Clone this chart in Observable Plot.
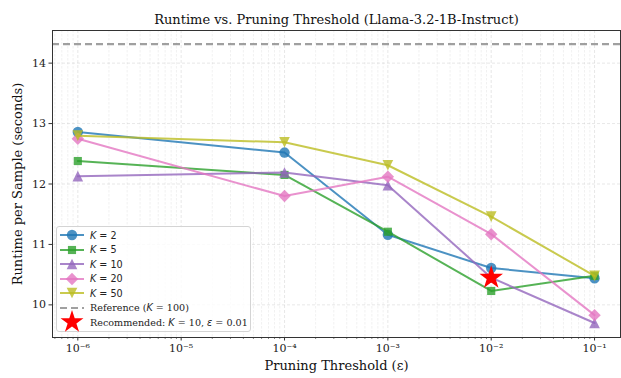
<!DOCTYPE html>
<html>
<head>
<meta charset="utf-8">
<script src="https://cdn.jsdelivr.net/npm/d3@7"></script>
<script src="https://cdn.jsdelivr.net/npm/@observablehq/plot@0.6"></script>
<style>
  html, body { margin: 0; padding: 0; background: #fff; }
  #wrap { position: relative; width: 621px; height: 378px; overflow: hidden; }
  #legend {
    position: absolute; left: 56px; top: 226px; width: 195px; height: 106px;
    border: 1px solid #d4d4d4; border-radius: 3px; background: rgba(255,255,255,0.8);
    box-sizing: border-box;
  }
  .row { position: absolute; left: 0; height: 14px; display: flex; align-items: center; }
  .row svg { display: block; }
  .lab-sans { font-family: "DejaVu Sans", sans-serif; font-size: 9.6px; color: #222; margin-left: 6px; white-space: nowrap; }
  .lab-serif { font-family: "DejaVu Serif", serif; font-size: 9.6px; color: #222; margin-left: 6px; white-space: nowrap; }
  .lab-serif i, .lab-sans i { font-family: "DejaVu Sans", sans-serif; font-style: italic; }
</style>
</head>
<body>
<div id="wrap"><div id="legend"></div></div>
<script>
// ---- data ----
const thresholds = [1e-6, 1e-4, 1e-3, 1e-2, 1e-1];
const kValues = [2, 5, 10, 20, 50];
const runtimeK2  = [12.86, 12.52, 11.16, 10.61, 10.44];
const runtimeK5  = [12.38, 12.15, 11.21, 10.23, 10.48];
const runtimeK10 = [12.13, 12.19, 11.98, 10.45, 9.70];
const runtimeK20 = [12.75, 11.80, 12.12, 11.17, 9.83];
const runtimeK50 = [12.80, 12.69, 12.31, 11.46, 10.48];
const referenceRuntime = [14.315];
const recommendedEps = [0.01];
const recommendedRuntime = [10.45];
const yTicks = [10, 11, 12, 13, 14];
const xTicks = [1e-6, 1e-5, 1e-4, 1e-3, 1e-2, 1e-1];
const xTickLabels = ["10\u207B\u2076", "10\u207B\u2075", "10\u207B\u2074", "10\u207B\u00B3", "10\u207B\u00B2", "10\u207B\u00B9"];
const seriesColors = ["#1f77b4", "#2ca02c", "#9467bd", "#e377c2", "#bcbd22"];

// custom triangles centered like matplotlib markers
const triUp = { draw(ctx, size) { const s = Math.sqrt(size / Math.PI) * 0.95; ctx.moveTo(0, -s); ctx.lineTo(s, s); ctx.lineTo(-s, s); ctx.closePath(); } };
const triDown = { draw(ctx, size) { const s = Math.sqrt(size / Math.PI) * 0.95; ctx.moveTo(0, s); ctx.lineTo(s, -s); ctx.lineTo(-s, -s); ctx.closePath(); } };
const seriesSymbols = ["circle", "square", triUp, "diamond2", triDown];
const symbolRadius = [5.2, 4.6, 5.6, 5.6, 5.6];

const allRuntimes = [runtimeK2, runtimeK5, runtimeK10, runtimeK20, runtimeK50];
const rows = [];
kValues.forEach((k, i) => thresholds.forEach((t, j) => rows.push({ k, idx: i, eps: t, runtime: allRuntimes[i][j] })));

// minor log ticks
const minor = [];
for (let e = -7; e <= -1; e++) for (let m = 2; m <= 9; m++) minor.push(m * Math.pow(10, e));
const xDomain = [Math.pow(10, -6.245), Math.pow(10, -0.749)];
const minorIn = minor.filter(v => v >= xDomain[0] && v <= xDomain[1]);

const marks = [
  Plot.gridX(minorIn, { stroke: "#bbb", strokeOpacity: 0.35, strokeDasharray: "2.5,1.5", strokeWidth: 0.6 }),
  Plot.gridX(xTicks, { stroke: "#aaa", strokeOpacity: 0.4, strokeDasharray: "3,2", strokeWidth: 0.7 }),
  Plot.gridY(yTicks, { stroke: "#aaa", strokeOpacity: 0.4, strokeDasharray: "3,2", strokeWidth: 0.7 }),
  Plot.ruleY(referenceRuntime, { stroke: "#808080", strokeOpacity: 0.75, strokeWidth: 2.2, strokeDasharray: "7,4" }),
];
kValues.forEach((k, i) => {
  const d = rows.filter(r => r.idx === i);
  marks.push(Plot.line(d, { x: "eps", y: "runtime", stroke: seriesColors[i], strokeWidth: 2, strokeOpacity: 0.8 }));
  marks.push(Plot.dot(d, { x: "eps", y: "runtime", fill: seriesColors[i], fillOpacity: 0.8, stroke: "none", symbol: () => seriesSymbols[i], r: symbolRadius[i] }));
});
marks.push(Plot.dot(recommendedEps.map((e, i) => ({ eps: e, runtime: recommendedRuntime[i] })), { x: "eps", y: "runtime", symbol: "star", fill: "red", r: 7.4, stroke: "none" }));
marks.push(
  Plot.axisX(minorIn, { tickSize: 2, tickFormat: null, stroke: "#333", strokeWidth: 0.6, label: null }),
  Plot.axisX(xTicks, { tickSize: 3.5, tickPadding: 3, tickFormat: (d) => xTickLabels[xTicks.indexOf(d)], fontSize: 11, fill: "#222", stroke: "#333", label: null }),
  Plot.axisY(yTicks, { tickSize: 3.5, tickPadding: 3, tickFormat: (d) => String(d), fontSize: 11, fill: "#222", stroke: "#333", label: null }),
  Plot.frame({ stroke: "#333", strokeWidth: 1 }),
  Plot.text(["Runtime vs. Pruning Threshold (Llama-3.2-1B-Instruct)"], { frameAnchor: "top", dy: -16, fontSize: 13, fill: "#111" }),
  Plot.text(["Pruning Threshold (\u03B5)"], { frameAnchor: "bottom", dy: 32, fontSize: 13, fill: "#111" }),
  Plot.text(["Runtime per Sample (seconds)"], { frameAnchor: "left", textAnchor: "middle", dx: -35, rotate: -90, fontSize: 13, fill: "#111" })
);

const chart = Plot.plot({
  width: 621, height: 378,
  marginTop: 30, marginBottom: 41, marginLeft: 52, marginRight: 1,
  style: { fontFamily: "DejaVu Serif, serif", background: "white", overflow: "visible" },
  x: { type: "log", domain: xDomain, axis: null },
  y: { domain: [9.46, 14.54], axis: null },
  marks
});
const wrap = document.getElementById("wrap");
wrap.insertBefore(chart, wrap.firstChild);

// legend
const legend = document.getElementById("legend");
function symbolSvg(symbolType, color, r, withLine, lineDash, lineColor, lineOpacity) {
  const w = 24, h = 14;
  const svg = d3.create("svg").attr("width", w).attr("height", h).style("overflow", "visible");
  if (withLine) svg.append("line").attr("x1", 0).attr("x2", w).attr("y1", h / 2).attr("y2", h / 2)
    .attr("stroke", lineColor).attr("stroke-width", 2).attr("stroke-opacity", lineOpacity).attr("stroke-dasharray", lineDash || null);
  if (symbolType) {
    svg.append("path").attr("transform", `translate(${w / 2},${h / 2})`)
      .attr("d", d3.symbol(symbolType, Math.PI * r * r)())
      .attr("fill", color).attr("fill-opacity", color === "red" ? 1 : 0.8);
  }
  return svg.node();
}
const d3Sym = { circle: d3.symbolCircle, square: d3.symbolSquare, diamond2: d3.symbolDiamond2 };
const entries = [];
kValues.forEach((k, i) => {
  const s = seriesSymbols[i];
  entries.push({ sym: typeof s === "string" ? d3Sym[s] : s, color: seriesColors[i], r: symbolRadius[i], line: true, html: `<span class="lab-sans"><i>K</i> = ${k}</span>` });
});
entries.push({ sym: null, line: true, dash: "7,4", lineColor: "#808080", lineOpacity: 0.75, html: `<span class="lab-serif">Reference (<i>K</i> = 100)</span>` });
entries.push({ sym: d3.symbolStar, color: "red", r: 7.2, line: false, html: `<span class="lab-serif">Recommended: <i>K</i> = 10, <i>\u03B5</i> = 0.01</span>` });
entries.forEach((e, i) => {
  const row = document.createElement("div");
  row.className = "row";
  row.style.top = (1.2 + i * 14.5) + "px";
  row.style.left = "3px";
  row.appendChild(symbolSvg(e.sym, e.color, e.r, e.line, e.dash, e.lineColor || e.color, e.lineOpacity || 0.8));
  row.insertAdjacentHTML("beforeend", e.html);
  legend.appendChild(row);
});
</script>
</body>
</html>
